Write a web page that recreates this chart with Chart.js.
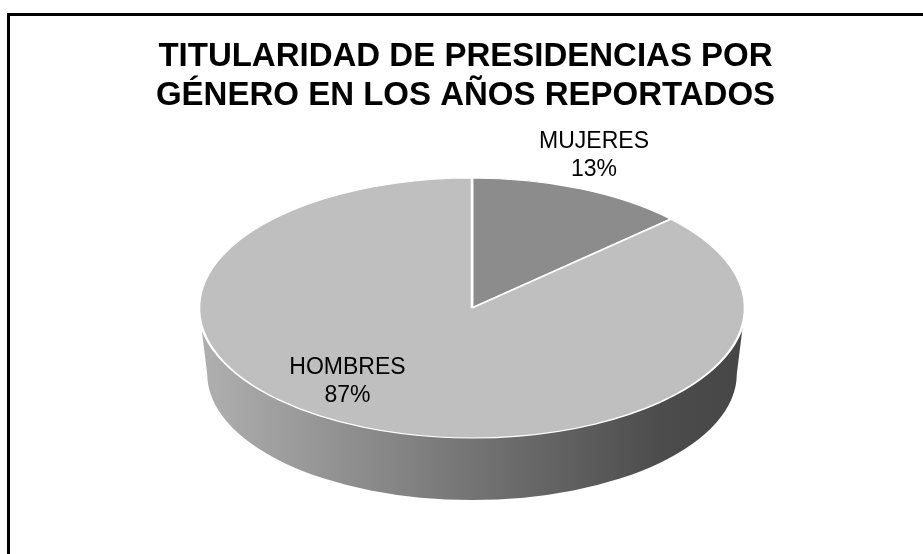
<!DOCTYPE html>
<html><head><meta charset="utf-8">
<script src="https://cdn.jsdelivr.net/npm/chart.js@4/dist/chart.umd.min.js"></script>
<style>
html,body{margin:0;padding:0;background:#fff;overflow:hidden}
#wrap{position:relative;width:923px;height:554px;overflow:hidden}
#frame{position:absolute;left:7px;top:13px;width:960px;height:600px;border:3px solid #000;box-sizing:border-box}
canvas{position:absolute;left:0;top:0}
</style></head>
<body><div id="wrap"><div id="frame"></div><canvas id="c" width="923" height="554"></canvas></div>
<script>
// ---- data ----
const categories = ['MUJERES', 'HOMBRES'];
const percentages = [13, 87];
const titleLines = ['TITULARIDAD DE PRESIDENCIAS POR', 'GÉNERO EN LOS AÑOS REPORTADOS'];

// ---- style ----
const sliceColors = ['#8c8c8c', '#bfbfbf'];
const PIE = { cx: 472, cy: 308, rx: 273, ry: 130, depth: 66, k: 0.97 };
const labelOffsets = [[0.447, -1.23], [-0.456, 0.508]]; // fractions of rx / ry, first baseline
const FONT = '"Liberation Sans", Arial, Helvetica, sans-serif';

const pie3d = {
  id: 'pie3d',
  beforeDatasetsDraw(chart) {
    const meta = chart.getDatasetMeta(0);
    const ctx = chart.ctx;
    const S = PIE;
    const grad = ctx.createLinearGradient(S.cx - S.rx, 0, S.cx + S.rx, 0);
    grad.addColorStop(0, '#b0b0b0');
    grad.addColorStop(0.45, '#7a7a7a');
    grad.addColorStop(0.85, '#4c4c4c');
    grad.addColorStop(1, '#464646');
    meta.data.forEach(arc => {
      const p = arc.getProps(['startAngle', 'endAngle'], true);
      [0, 2 * Math.PI].forEach(off => {
        const s = Math.max(p.startAngle, off), e = Math.min(p.endAngle, off + Math.PI);
        if (e <= s) return;
        ctx.save();
        ctx.beginPath();
        ctx.ellipse(S.cx, S.cy, S.rx, S.ry, 0, s, e, false);
        ctx.ellipse(S.cx, S.cy + S.depth, S.rx * S.k, S.ry * S.k, 0, e, s, true);
        ctx.closePath();
        ctx.fillStyle = grad;
        ctx.fill();
        ctx.restore();
      });
    });
    const a0 = meta.data[0].getProps(['x', 'y', 'outerRadius'], true);
    ctx.save();
    ctx.translate(S.cx, S.cy);
    ctx.scale(S.rx / a0.outerRadius, S.ry / a0.outerRadius);
    ctx.translate(-a0.x, -a0.y);
  },
  afterDatasetsDraw(chart) {
    const ctx = chart.ctx;
    ctx.restore();
    const meta = chart.getDatasetMeta(0);
    ctx.save();
    ctx.font = '23px ' + FONT;
    ctx.fillStyle = '#000';
    ctx.textAlign = 'center';
    ctx.textBaseline = 'alphabetic';
    meta.data.forEach((arc, i) => {
      const x = PIE.cx + labelOffsets[i][0] * PIE.rx;
      const y = PIE.cy + labelOffsets[i][1] * PIE.ry;
      ctx.fillText(categories[i], x, y);
      ctx.fillText(percentages[i] + '%', x, y + 28);
    });
    ctx.restore();
  }
};

new Chart(document.getElementById('c'), {
  type: 'pie',
  data: {
    labels: categories,
    datasets: [{
      data: percentages,
      backgroundColor: sliceColors,
      borderColor: '#ffffff',
      borderWidth: 2
    }]
  },
  options: {
    responsive: false,
    devicePixelRatio: 1,
    animation: false,
    rotation: 0,
    layout: { padding: { left: 8 } },
    plugins: {
      legend: { display: false },
      tooltip: { enabled: false },
      title: {
        display: true,
        text: titleLines,
        color: '#000',
        align: 'center',
        font: { family: FONT, size: 33, weight: 'bold', lineHeight: 1.18 },
        padding: { top: 37, bottom: 10 }
      }
    }
  },
  plugins: [pie3d]
});
</script>
</body></html>
